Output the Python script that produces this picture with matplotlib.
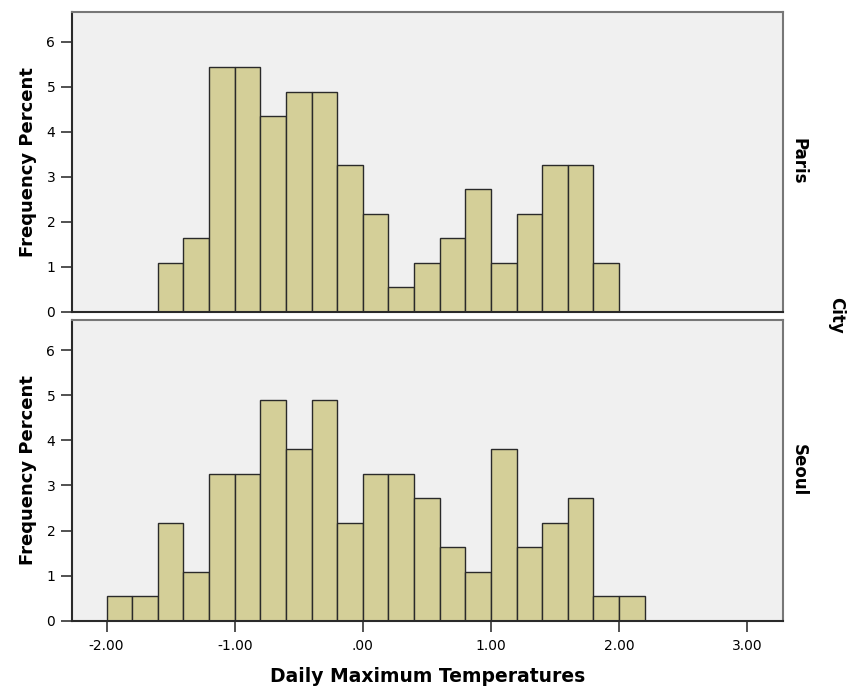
import matplotlib
matplotlib.use('Agg')
import matplotlib.pyplot as plt

plt.rcParams['font.family'] = ['DejaVu Sans']

# bin width 0.2, percent of all 184 days
bin_width = 0.2
paris_left = [-1.6, -1.4, -1.2, -1.0, -0.8, -0.6, -0.4, -0.2, 0.0, 0.2,
              0.4, 0.6, 0.8, 1.0, 1.2, 1.4, 1.6, 1.8]
paris_pct = [1.09, 1.63, 5.43, 5.43, 4.35, 4.89, 4.89, 3.26, 2.17, 0.54,
             1.09, 1.63, 2.72, 1.09, 2.17, 3.26, 3.26, 1.09]
seoul_left = [-2.0, -1.8, -1.6, -1.4, -1.2, -1.0, -0.8, -0.6, -0.4, -0.2, 0.0,
              0.2, 0.4, 0.6, 0.8, 1.0, 1.2, 1.4, 1.6, 1.8, 2.0]
seoul_pct = [0.54, 0.54, 2.17, 1.09, 3.26, 3.26, 4.89, 3.80, 4.89, 2.17, 3.26,
             3.26, 2.72, 1.63, 1.09, 3.80, 1.63, 2.17, 2.72, 0.54, 0.54]

cities = ['Paris', 'Seoul']
x_ticks = [-2.0, -1.0, 0.0, 1.0, 2.0, 3.0]
x_tick_labels = ['-2.00', '-1.00', '.00', '1.00', '2.00', '3.00']

BAR = '#d4cf98'
BG = '#f0f0f0'

fig = plt.figure(figsize=(8.58, 6.89), dpi=100)
ax_top = fig.add_axes([0.0839, 0.5476, 0.8287, 0.4354])
ax_bot = fig.add_axes([0.0839, 0.0991, 0.8287, 0.4365])

for ax, lefts, pct, city in [(ax_top, paris_left, paris_pct, cities[0]),
                             (ax_bot, seoul_left, seoul_pct, cities[1])]:
    ax.set_facecolor(BG)
    ax.bar(lefts, pct, width=bin_width, align='edge', color=BAR,
           edgecolor='#2a2a2a', linewidth=1.0, zorder=2)
    ax.set_xlim(-2.27, 3.28)
    ax.set_ylim(0, 6.67)
    ax.set_yticks(range(0, 7))
    ax.tick_params(axis='y', length=8, width=1.2, color='#333333',
                   labelsize=10, pad=4)
    for side in ['top', 'right']:
        ax.spines[side].set_color('#777777')
        ax.spines[side].set_linewidth(1.5)
    for side in ['left', 'bottom']:
        ax.spines[side].set_color('#2a2a2a')
        ax.spines[side].set_linewidth(1.5)
    ax.set_ylabel('Frequency Percent', fontsize=13, fontweight='bold',
                  labelpad=7)
    ax.text(1.022, 0.5, city, transform=ax.transAxes, rotation=-90,
            ha='center', va='center', fontsize=12, fontweight='bold')

ax_top.set_xticks([])
ax_bot.set_xticks(x_ticks)
ax_bot.set_xticklabels(x_tick_labels)
ax_bot.tick_params(axis='x', length=8, width=1.2, color='#333333',
                   labelsize=10, pad=5)
ax_bot.set_xlabel('Daily Maximum Temperatures', fontsize=13.5,
                  fontweight='bold', labelpad=10)

fig.text(0.975, 0.542, 'City', rotation=-90, ha='center', va='center',
         fontsize=12, fontweight='bold')

fig.savefig('out.png', dpi=100, facecolor='white')
